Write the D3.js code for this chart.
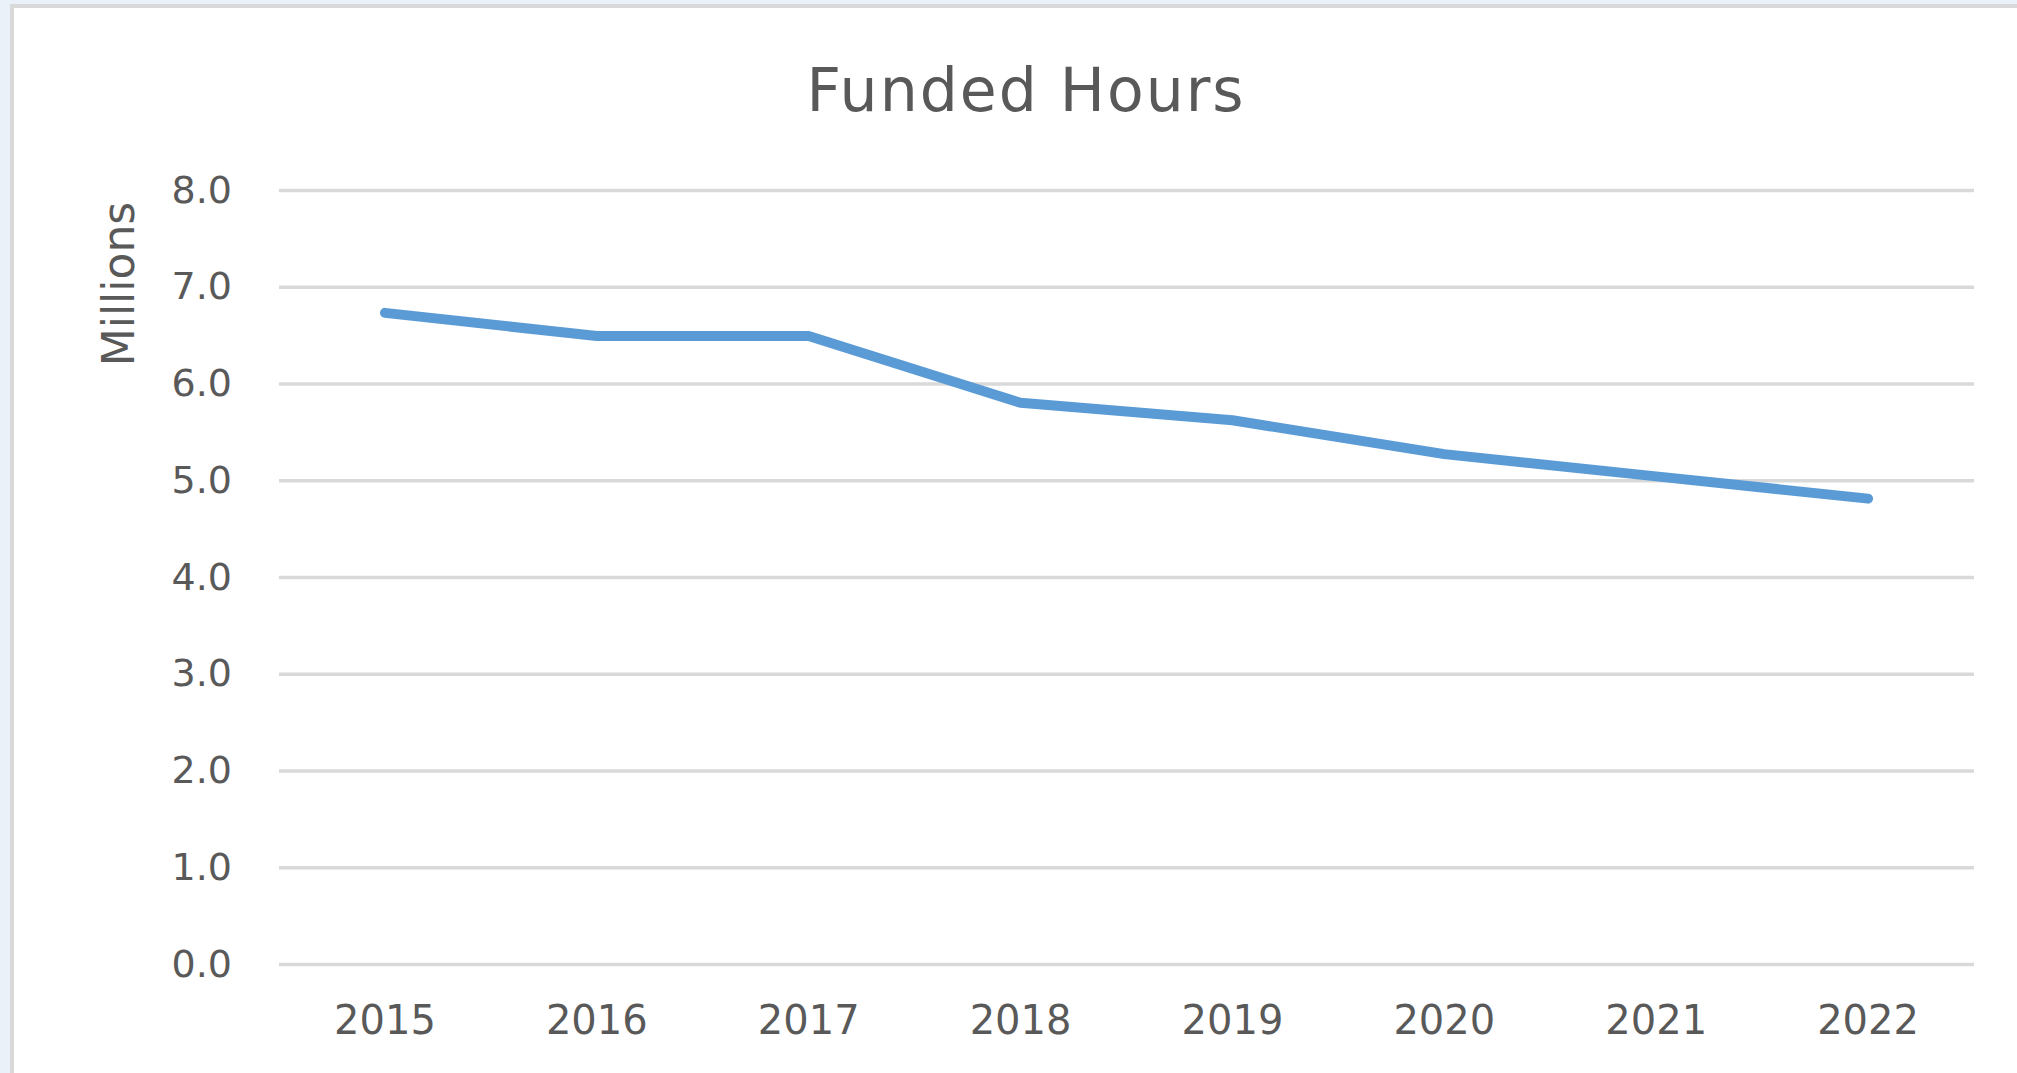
<!DOCTYPE html>
<html>
<head>
<meta charset="utf-8">
<script src="https://cdn.jsdelivr.net/npm/d3@7"></script>
<style>
  body { margin: 0; background: #eaf1f8; overflow: hidden; }
  text { font-family: "DejaVu Sans", sans-serif; fill: #595959; }
</style>
</head>
<body>
<svg id="chart" width="2017" height="1073"></svg>
<script>
document.addEventListener('DOMContentLoaded', () => {
    'use strict';

    // Chart data
    const years = ['2015', '2016', '2017', '2018', '2019', '2020', '2021', '2022'];
    const fundedHours = [6.73, 6.49, 6.49, 5.80, 5.62, 5.27, 5.04, 4.81];
    const yTicks = [0, 1, 2, 3, 4, 5, 6, 7, 8];
    const title = 'Funded Hours';
    const yLabel = 'Millions';

    let width = 2017,
        height = 1073,
        plot = { left: 279, right: 1974, top: 190, bottom: 964 };

    let svg = d3.select('#chart');

    // Page background and chart panel
    svg.append('rect')
        .attr('width', width)
        .attr('height', height)
        .attr('fill', '#eaf1f8');
    svg.append('rect')
        .attr('x', 12)
        .attr('y', 6)
        .attr('width', width + 20)
        .attr('height', height + 20)
        .attr('fill', '#ffffff')
        .attr('stroke', '#d9d9d9')
        .attr('stroke-width', 4);

    let x = d3.scaleBand()
        .domain(years)
        .range([plot.left, plot.right])
        .padding(0);

    let y = d3.scaleLinear()
        .domain([0, 8])
        .range([plot.bottom, plot.top]);

    // Gridlines + y labels
    let yAxis = svg.append('g')
        .attr('transform', 'translate(' + plot.left + ',0)')
        .call(d3.axisLeft(y)
            .tickValues(yTicks)
            .tickSize(-(plot.right - plot.left))
            .tickPadding(47)
            .tickFormat(d3.format('.1f')));
    yAxis.select('.domain').remove();
    yAxis.selectAll('.tick line')
        .attr('stroke', '#d9d9d9')
        .attr('stroke-width', 3.5);
    yAxis.selectAll('.tick text')
        .attr('font-family', '"DejaVu Sans", sans-serif')
        .style('font-size', '38px')
        .attr('fill', '#595959');

    // x labels
    let xAxis = svg.append('g')
        .attr('transform', 'translate(0,' + plot.bottom + ')')
        .call(d3.axisBottom(x).tickSize(0).tickPadding(42));
    xAxis.select('.domain').remove();
    xAxis.selectAll('.tick text')
        .attr('font-family', '"DejaVu Sans", sans-serif')
        .style('font-size', '40px')
        .attr('fill', '#595959');

    // Series line
    let line = d3.line()
        .x((d, i) => x(years[i]) + x.bandwidth() / 2)
        .y(d => y(d));

    svg.append('path')
        .datum(fundedHours)
        .attr('d', line)
        .attr('fill', 'none')
        .attr('stroke', '#5b9bd5')
        .attr('stroke-width', 10)
        .attr('stroke-linecap', 'round')
        .attr('stroke-linejoin', 'round');

    // Title
    svg.append('text')
        .attr('x', 1026)
        .attr('y', 111)
        .attr('text-anchor', 'middle')
        .style('font-size', '60px')
        .style('letter-spacing', '2px')
        .text(title);

    // Y axis title
    svg.append('text')
        .attr('transform', 'translate(134,284) rotate(-90)')
        .attr('text-anchor', 'middle')
        .style('font-size', '44px')
        .text(yLabel);
});
</script>
</body>
</html>
